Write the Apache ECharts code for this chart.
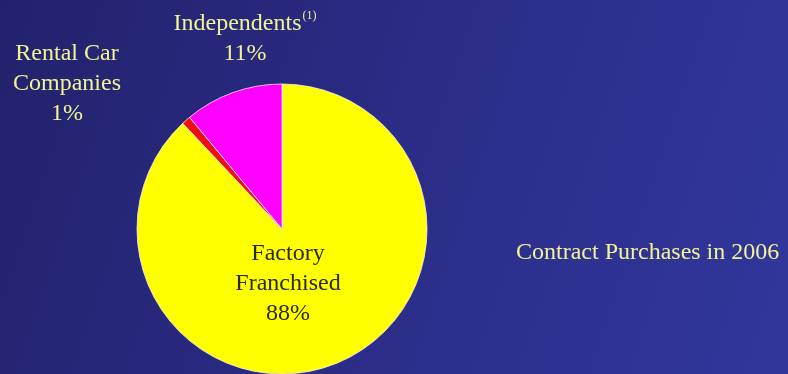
<!DOCTYPE html>
<html>
<head>
<meta charset="utf-8">
<style>
  html, body { margin: 0; padding: 0; background: #262674; }
  #chart { width: 788px; height: 374px; }
</style>
<script src="https://cdn.jsdelivr.net/npm/echarts@6/dist/echarts.min.js"></script>
</head>
<body>
<div id="chart"></div>
<script>
// Share of contract purchases by buyer type, 2006
const categories = ['Factory Franchised', 'Rental Car Companies', 'Independents'];
const shares = [88, 1, 11];
const labelNames = ['Factory\nFranchised', 'Rental Car\nCompanies', 'Independents'];
const footnotes = ['', '', '(1)'];
const chartTitle = 'Contract Purchases in 2006';

const sliceColors = ['#ffff00', '#ee1111', '#ff00ff'];
const labelColors = ['#2a2a14', '#f2f296', '#f2f296'];
// label block centres (px)
const labelSpots = [[288, 284], [67, 84], [245, 39]];

const serif = '"Liberation Serif", "Times New Roman", serif';

const chart = echarts.init(document.getElementById('chart'), null, { renderer: 'canvas' });

const pieData = categories.map((name, i) => ({
  name: name,
  value: shares[i],
  itemStyle: { color: sliceColors[i] },
  label: {
    formatter: () => {
      const lines = labelNames[i].split('\n').map(t => '{t|' + t + '}');
      if (footnotes[i]) lines[lines.length - 1] += '{s|' + footnotes[i] + '}';
      lines.push('{t|' + shares[i] + '%}');
      return lines.join('\n');
    },
    rich: {
      t: { fontFamily: serif, fontSize: 24, lineHeight: 30, color: labelColors[i] },
      s: { fontFamily: serif, fontSize: 12, lineHeight: 30, verticalAlign: 'top', padding: [1, 0, 0, 1], color: labelColors[i] }
    }
  }
}));

chart.setOption({
  backgroundColor: new echarts.graphic.LinearGradient(0, 0, 1, 0.7, [
    { offset: 0, color: '#22226c' },
    { offset: 0.55, color: '#2b2d88' },
    { offset: 1, color: '#30369a' }
  ]),
  animation: false,
  title: {
    text: chartTitle,
    left: 516,
    top: 241,
    padding: 0,
    textStyle: { fontFamily: serif, fontSize: 24, fontWeight: 'normal', color: '#f2f296' }
  },
  series: [{
    type: 'pie',
    center: [282, 229],
    radius: 145,
    startAngle: 90,
    clockwise: true,
    avoidLabelOverlap: false,
    itemStyle: { borderColor: 'rgba(255,240,255,0.75)', borderWidth: 1 },
    label: { show: true, position: 'outside' },
    labelLine: { show: false },
    labelLayout: function (params) {
      const p = labelSpots[params.dataIndex];
      return { x: p[0], y: p[1], align: 'center', verticalAlign: 'middle', hideOverlap: false, moveOverlap: null };
    },
    emphasis: { disabled: true },
    data: pieData
  }]
});
</script>
</body>
</html>
